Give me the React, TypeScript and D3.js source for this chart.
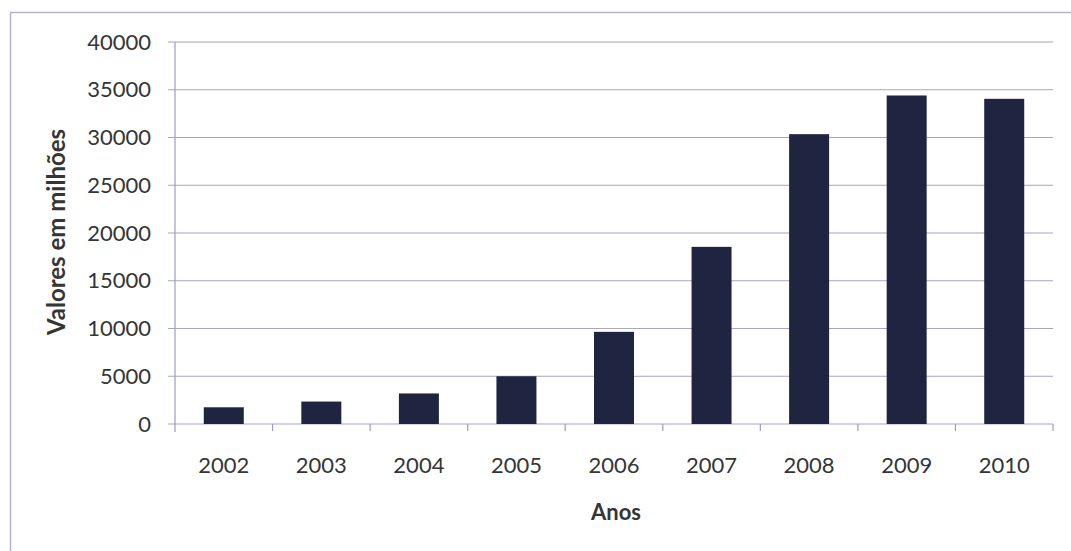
import React from "react";
import * as d3 from "d3";

const years = ["2002", "2003", "2004", "2005", "2006", "2007", "2008", "2009", "2010"];
const values = [1750, 2350, 3200, 5000, 9650, 18550, 30350, 34400, 34050];
const yTicks = [0, 5000, 10000, 15000, 20000, 25000, 30000, 35000, 40000];
const yTitle = "Valores em milhões";
const xTitle = "Anos";

const W = 1071;
const H = 551;
const plot = { left: 175, right: 1053, top: 42, bottom: 424 };

export default function App() {
  const x = d3
    .scaleBand<string>()
    .domain(years)
    .range([plot.left, plot.right])
    .paddingInner(0.59)
    .paddingOuter(0.295);
  const cat = d3.scaleBand<string>().domain(years).range([plot.left, plot.right]);
  const y = d3.scaleLinear().domain([0, 40000]).range([plot.bottom, plot.top]);

  const font = "Lato, 'Open Sans', sans-serif";
  const gridColor = "#a6a6c0";
  const axisColor = "#9a9ad0";
  const textColor = "#353535";

  return (
    <svg
      width={W}
      height={H}
      style={{ position: "absolute", left: 0, top: 0, background: "#fff" }}
    >
      {/* chart frame */}
      <line x1={10} y1={12.5} x2={W} y2={12.5} stroke="#b4b4c8" strokeWidth={1.5} />
      <line x1={10.5} y1={12} x2={10.5} y2={H} stroke="#b4b4c8" strokeWidth={1.5} />

      {/* horizontal gridlines with tick stubs */}
      {yTicks.map((t) => (
        <line
          key={"g" + t}
          x1={plot.left - 7}
          x2={plot.right}
          y1={y(t)}
          y2={y(t)}
          stroke={gridColor}
          strokeWidth={1.2}
        />
      ))}

      {/* y axis line */}
      <line
        x1={plot.left}
        x2={plot.left}
        y1={plot.top}
        y2={plot.bottom + 8}
        stroke={axisColor}
        strokeWidth={1.2}
      />

      {/* category ticks */}
      {years.map((yr) => {
        const xx = (cat(yr) as number) + cat.bandwidth();
        return (
          <line
            key={"t" + yr}
            x1={xx}
            x2={xx}
            y1={plot.bottom}
            y2={plot.bottom + 7}
            stroke={axisColor}
            strokeWidth={1.2}
          />
        );
      })}

      {/* bars */}
      {years.map((yr, i) => (
        <rect
          key={"b" + yr}
          x={x(yr)}
          y={y(values[i])}
          width={x.bandwidth()}
          height={y(0) - y(values[i])}
          fill="#1f2541"
        />
      ))}

      {/* y tick labels */}
      {yTicks.map((t) => (
        <text
          key={"yl" + t}
          x={151}
          y={y(t)}
          dy="0.35em"
          textAnchor="end"
          fontFamily={font}
          fontSize={22}
          fill={textColor}
        >
          {t}
        </text>
      ))}

      {/* x tick labels */}
      {years.map((yr) => (
        <text
          key={"xl" + yr}
          x={(cat(yr) as number) + cat.bandwidth() / 2}
          y={465}
          dy="0.35em"
          textAnchor="middle"
          fontFamily={font}
          fontSize={22}
          fill={textColor}
        >
          {yr}
        </text>
      ))}

      {/* axis titles */}
      <text
        transform={`translate(57, 232) rotate(-90)`}
        dy="0.35em"
        textAnchor="middle"
        fontFamily={font}
        fontWeight="bold"
        fontSize={24}
        fill={textColor}
      >
        {yTitle}
      </text>
      <text
        x={616}
        y={512}
        dy="0.35em"
        textAnchor="middle"
        fontFamily={font}
        fontWeight="bold"
        fontSize={22}
        fill={textColor}
      >
        {xTitle}
      </text>
    </svg>
  );
}
